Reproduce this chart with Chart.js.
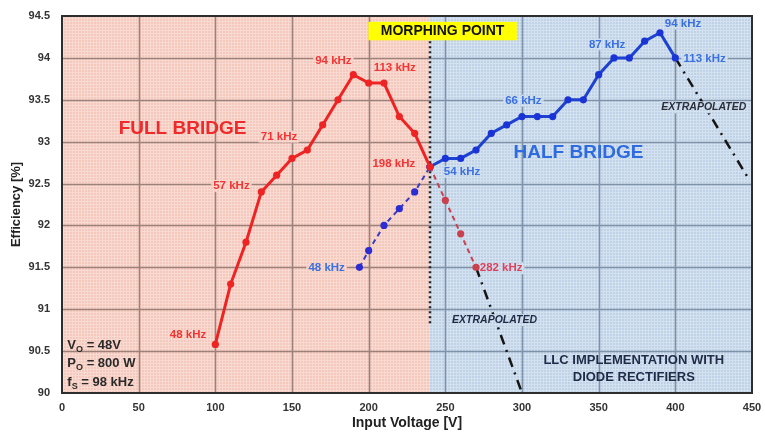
<!DOCTYPE html>
<html>
<head>
<meta charset="utf-8">
<script src="https://cdn.jsdelivr.net/npm/chart.js@4.4.1/dist/chart.umd.min.js"></script>
<style>
  html, body { margin: 0; padding: 0; background: #fff; }
  #wrap { width: 765px; height: 432px; }
</style>
</head>
<body>
<div id="wrap"><canvas id="effchart"></canvas></div>
<script>
// Efficiency vs input voltage, full bridge / half bridge LLC

// full bridge (red)
var fbVolt = [100, 110, 120, 130, 140, 150, 160, 170, 180, 190, 200, 210, 220, 230, 240];
var fbEff = [90.58, 91.3, 91.8, 92.4, 92.6, 92.8, 92.9, 93.2, 93.5, 93.8, 93.7, 93.7, 93.3, 93.1, 92.7];
// full bridge beyond morphing point (dashed)
var fbExtVolt = [240, 250, 260, 270];
var fbExtEff = [92.7, 92.3, 91.9, 91.5];
// half bridge below morphing point (dashed)
var hbLowVolt = [194, 200, 210, 220, 230, 240];
var hbLowEff = [91.5, 91.7, 92.0, 92.2, 92.4, 92.7];
// half bridge (blue)
var hbVolt = [240, 250, 260, 270, 280, 290, 300, 310, 320, 330, 340, 350, 360, 370, 380, 390, 400];
var hbEff = [92.7, 92.8, 92.8, 92.9, 93.1, 93.2, 93.3, 93.3, 93.3, 93.5, 93.5, 93.8, 94.0, 94.0, 94.2, 94.3, 94.0];
// extrapolated (dash-dot)
var fbXtrVolt = [270, 300];
var fbXtrEff = [91.5, 90.0];
var hbXtrVolt = [400, 448];
var hbXtrEff = [94.0, 92.55];
// morphing point marker
var morphVolt = [240, 240];
var morphEff = [94.2, 90.8];

var xTicks = [0, 50, 100, 150, 200, 250, 300, 350, 400, 450];
var yTicks = [90, 90.5, 91, 91.5, 92, 92.5, 93, 93.5, 94, 94.5];

function pts(xs, ys) {
    return xs.map(function (x, i) { return { x: x, y: ys[i] }; });
}

var PINK = '#f5c8bc', PINK_LT = '#f9dad2';
var BLUE = '#c0d2e7', BLUE_LT = '#d4e1ef';
var pinkFill, blueFill;

function makePattern(ctx, base, light) {
    var c = document.createElement('canvas');
    c.width = 3; c.height = 3;
    var p = c.getContext('2d');
    p.fillStyle = base;
    p.fillRect(0, 0, 3, 3);
    p.fillStyle = light;
    p.fillRect(0, 0, 3, 1);
    p.fillRect(0, 0, 1, 3);
    return ctx.createPattern(c, 'repeat');
}

// text labels placed in data coordinates
var redLabels = [
    ['48 kHz', 82.2, 90.70], ['57 kHz', 110.5, 92.47], ['71 kHz', 141.5, 93.06],
    ['94 kHz', 177, 93.97], ['113 kHz', 217, 93.88], ['198 kHz', 216.4, 92.73]
];
var blueLabels = [
    ['48 kHz', 172.6, 91.49], ['54 kHz', 260.9, 92.64], ['66 kHz', 300.9, 93.49],
    ['87 kHz', 355.5, 94.16], ['94 kHz', 405, 94.41], ['113 kHz', 419.1, 93.99]
];

function drawLabel(chart, t, x, y, font, color, bg) {
    var ctx = chart.ctx;
    var px = chart.scales.x.getPixelForValue(x), py = chart.scales.y.getPixelForValue(y);
    ctx.font = font;
    ctx.textBaseline = 'middle';
    ctx.textAlign = 'center';
    var w = ctx.measureText(t).width;
    if (bg) {
        ctx.fillStyle = bg;
        ctx.fillRect(px - w / 2 - 2, py - 6, w + 4, 12);
    }
    ctx.fillStyle = color;
    ctx.fillText(t, px, py);
}

var backdrop = {
    id: 'backdrop',
    beforeDraw: function (chart) {
        var ctx = chart.ctx, xs = chart.scales.x, ys = chart.scales.y, a = chart.chartArea;
        var mid = xs.getPixelForValue(240);
        pinkFill = makePattern(ctx, PINK, PINK_LT);
        blueFill = makePattern(ctx, BLUE, BLUE_LT);
        ctx.save();
        ctx.fillStyle = '#fff';
        ctx.fillRect(0, 0, chart.width, chart.height);
        ctx.fillStyle = pinkFill;
        ctx.fillRect(a.left, a.top, mid - a.left, a.bottom - a.top);
        ctx.fillStyle = blueFill;
        ctx.fillRect(mid, a.top, a.right - mid, a.bottom - a.top);
        ctx.lineWidth = 1.6;
        // vertical grid
        xTicks.forEach(function (v) {
            if (v === 0 || v === 450) return;
            var px = Math.round(xs.getPixelForValue(v)) + 0.5;
            ctx.strokeStyle = v < 240 ? '#9c807a' : '#7f93a8';
            ctx.beginPath(); ctx.moveTo(px, a.top); ctx.lineTo(px, a.bottom); ctx.stroke();
        });
        // horizontal grid
        yTicks.forEach(function (v) {
            if (v === 90 || v === 94.5) return;
            var py = Math.round(ys.getPixelForValue(v)) + 0.5;
            ctx.strokeStyle = '#9c807a';
            ctx.beginPath(); ctx.moveTo(a.left, py); ctx.lineTo(mid, py); ctx.stroke();
            ctx.strokeStyle = '#7f93a8';
            ctx.beginPath(); ctx.moveTo(mid, py); ctx.lineTo(a.right, py); ctx.stroke();
        });
        ctx.restore();
    },
    beforeDatasetsDraw: function (chart) {
        var ctx = chart.ctx, xs = chart.scales.x, ys = chart.scales.y;
        function X(v) { return xs.getPixelForValue(v); }
        function Y(v) { return ys.getPixelForValue(v); }
        ctx.save();
        var kf = 'bold 11.5px "Liberation Sans", Arial, sans-serif';
        redLabels.forEach(function (l) { drawLabel(chart, l[0], l[1], l[2], kf, '#f03535', pinkFill); });
        drawLabel(chart, '282 kHz', 286.4, 91.49, kf, '#e0405a', blueFill);
        blueLabels.forEach(function (l) { drawLabel(chart, l[0], l[1], l[2], kf, '#3a70e0', l[1] < 240 ? pinkFill : blueFill); });

        var big = 'bold 19px "Liberation Sans", Arial, sans-serif';
        drawLabel(chart, 'FULL BRIDGE', 78.6, 93.15, big, '#f02a2a');
        drawLabel(chart, 'HALF BRIDGE', 336.8, 92.87, big, '#2f6be0');

        var llc = 'bold 13px "Liberation Sans", Arial, sans-serif';
        drawLabel(chart, 'LLC IMPLEMENTATION WITH', 372.9, 90.39, llc, '#1f2b47');
        drawLabel(chart, 'DIODE RECTIFIERS', 372.9, 90.18, llc, '#1f2b47');

        // operating conditions with subscripts
        var cf = 'bold 13px "Liberation Sans", Arial, sans-serif';
        var sf = 'bold 9px "Liberation Sans", Arial, sans-serif';
        var cond = [['V', 'O', ' = 48V', 90.57], ['P', 'O', ' = 800 W', 90.35], ['f', 'S', ' = 98 kHz', 90.13]];
        ctx.textAlign = 'left';
        ctx.textBaseline = 'middle';
        ctx.fillStyle = '#2a2a2a';
        cond.forEach(function (c) {
            var px = X(3.5), py = Y(c[3]);
            ctx.font = cf; ctx.fillText(c[0], px, py);
            px += ctx.measureText(c[0]).width;
            ctx.font = sf; ctx.fillText(c[1], px, py + 4);
            px += ctx.measureText(c[1]).width;
            ctx.font = cf; ctx.fillText(c[2], px, py);
        });
        ctx.restore();
    },
    afterDatasetsDraw: function (chart) {
        var ctx = chart.ctx, xs = chart.scales.x, ys = chart.scales.y;
        function X(v) { return xs.getPixelForValue(v); }
        function Y(v) { return ys.getPixelForValue(v); }
        ctx.save();
        // morphing point box
        ctx.fillStyle = '#ffff00';
        ctx.fillRect(X(199.8), Y(94.43), X(296.6) - X(199.8), Y(94.21) - Y(94.43));
        drawLabel(chart, 'MORPHING POINT', 248.2, 94.32, 'bold 14px "Liberation Sans", Arial, sans-serif', '#111');

        var ital = 'italic bold 10.5px "Liberation Sans", Arial, sans-serif';
        drawLabel(chart, 'EXTRAPOLATED', 418.6, 93.41, ital, '#2b2f3a', blueFill);
        drawLabel(chart, 'EXTRAPOLATED', 282.1, 90.87, ital, '#1e2a44', blueFill);
        ctx.restore();
    },
    afterDraw: function (chart) {
        var ctx = chart.ctx, a = chart.chartArea;
        ctx.save();
        ctx.strokeStyle = '#2e2e2e';
        ctx.lineWidth = 2;
        ctx.strokeRect(a.left, a.top, a.right - a.left, a.bottom - a.top);
        ctx.restore();
    }
};

var ctx = document.getElementById('effchart').getContext('2d');
var effchart = new Chart(ctx, {
    type: 'scatter',
    data: {
        datasets: [
            {
                label: 'Full bridge',
                data: pts(fbVolt, fbEff),
                showLine: true,
                borderColor: '#ee2323',
                backgroundColor: '#ee2323',
                borderWidth: 3,
                pointRadius: 3.6,
                pointBorderWidth: 0,
            },
            {
                label: 'Half bridge',
                data: pts(hbVolt, hbEff),
                showLine: true,
                borderColor: '#1d42cf',
                backgroundColor: '#1a33d6',
                borderWidth: 3,
                pointRadius: 3.6,
                pointBorderWidth: 0,
            },
            {
                label: 'Full bridge ext',
                data: pts(fbExtVolt, fbExtEff),
                showLine: true,
                borderColor: '#c9404e',
                backgroundColor: '#c9404e',
                borderWidth: 2,
                borderDash: [5, 4],
                pointRadius: 3.6,
                pointBorderWidth: 0,
            },
            {
                label: 'Half bridge low',
                data: pts(hbLowVolt, hbLowEff),
                showLine: true,
                borderColor: '#3c3cbf',
                backgroundColor: '#2c2cd2',
                borderWidth: 2,
                borderDash: [5, 4],
                pointRadius: 3.6,
                pointBorderWidth: 0,
            },
            {
                label: 'FB extrapolated',
                data: pts(fbXtrVolt, fbXtrEff),
                showLine: true,
                borderColor: '#151515',
                borderWidth: 2.5,
                borderDash: [10, 6, 2, 6],
                pointRadius: 0,
            },
            {
                label: 'HB extrapolated',
                data: pts(hbXtrVolt, hbXtrEff),
                showLine: true,
                borderColor: '#151515',
                borderWidth: 2.5,
                borderDash: [10, 6, 2, 6],
                pointRadius: 0,
            },
            {
                label: 'Morphing point',
                data: pts(morphVolt, morphEff),
                showLine: true,
                borderColor: '#222',
                borderWidth: 2.5,
                borderDash: [2, 3],
                pointRadius: 0,
            },
        ],
    },
    options: {
        responsive: true,
        maintainAspectRatio: false,
        animation: false,
        layout: { padding: { top: 16, right: 13, left: 0, bottom: 0 } },
        plugins: {
            legend: { display: false },
            tooltip: { enabled: false },
        },
        scales: {
            x: {
                type: 'linear',
                min: 0,
                max: 450,
                afterFit: function (s) { s.height = 39; s.paddingLeft = 0; s.paddingRight = 0; },
                afterBuildTicks: function (s) { s.ticks = xTicks.map(function (v) { return { value: v }; }); },
                grid: { display: false, drawTicks: false },
                border: { display: false },
                ticks: {
                    padding: 8,
                    color: '#333',
                    font: { family: '"Liberation Sans", Arial, sans-serif', size: 11, weight: 'bold' },
                },
                title: {
                    display: true,
                    text: 'Input Voltage [V]',
                    color: '#222',
                    padding: 0,
                    font: { family: '"Liberation Sans", Arial, sans-serif', size: 14, weight: 'bold' },
                },
            },
            y: {
                type: 'linear',
                min: 90,
                max: 94.5,
                afterFit: function (s) { s.width = 62; s.paddingTop = 0; s.paddingBottom = 0; },
                afterBuildTicks: function (s) { s.ticks = yTicks.map(function (v) { return { value: v }; }); },
                grid: { display: false, drawTicks: false },
                border: { display: false },
                ticks: {
                    padding: 12,
                    color: '#333',
                    font: { family: '"Liberation Sans", Arial, sans-serif', size: 11, weight: 'bold' },
                    callback: function (v) { return String(v); },
                },
                title: {
                    display: true,
                    text: 'Efficiency [%]',
                    color: '#222',
                    padding: { top: 9, bottom: 0 },
                    font: { family: '"Liberation Sans", Arial, sans-serif', size: 13, weight: 'bold' },
                },
            },
        },
    },
    plugins: [backdrop],
});
</script>
</body>
</html>
